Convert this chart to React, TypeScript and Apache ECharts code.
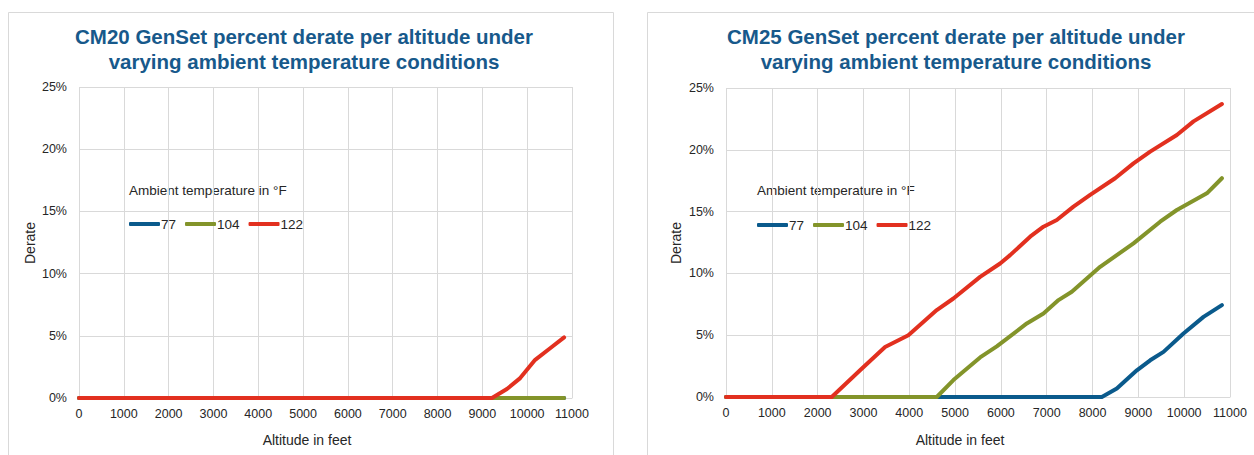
import React, { useEffect, useRef } from "react";
import * as echarts from "echarts";

// ---------- data ----------
const seriesNames = ["77", "104", "122"];

// CM20 (left)
const cm20Alt77 = [0, 10824];
const cm20Val77 = [0, 0];
const cm20Alt104 = [0, 10824];
const cm20Val104 = [0, 0];
const cm20Alt122 = [0, 9214, 9548, 9844, 10178, 10512, 10824];
const cm20Val122 = [0, 0, 0.72, 1.6, 3.07, 4.0, 4.87];

// CM25 (right)
const cm25Alt77 = [0, 8203, 8530, 8967, 9258, 9549, 9985, 10422, 10823];
const cm25Val77 = [0, 0, 0.68, 2.16, 2.97, 3.65, 5.14, 6.48, 7.43];
const cm25Alt104 = [0, 4600, 4963, 5546, 5910, 6565, 6929, 7257, 7548, 8166, 8894, 9476, 9840, 10495, 10823];
const cm25Val104 = [0, 0, 1.37, 3.2, 4.1, 5.95, 6.76, 7.84, 8.51, 10.53, 12.43, 14.18, 15.13, 16.48, 17.7];
const cm25Alt122 = [0, 2308, 2926, 3472, 3980, 4600, 4963, 5546, 5983, 6201, 6638, 6929, 7220, 7584, 7948, 8493, 8894, 9258, 9840, 10204, 10823];
const cm25Val122 = [0, 0, 2.16, 4.05, 5.0, 7.03, 7.97, 9.72, 10.8, 11.48, 12.97, 13.78, 14.32, 15.4, 16.35, 17.7, 18.9, 19.85, 21.2, 22.3, 23.7];

const titles = [
  ["CM20 GenSet percent derate per altitude under", "varying ambient temperature conditions"],
  ["CM25 GenSet percent derate per altitude under", "varying ambient temperature conditions"],
];
const legendTitle = "Ambient temperature in °F";
const xName = "Altitude in feet";
const yName = "Derate";

const colors = ["#0a5a8c", "#83942a", "#e2301f"];
const FONT = "Liberation Sans, Arial, sans-serif";
const TXT = "#262626";
const GRID = "#d9d9d9";

const zip = (a: number[], b: number[]) => a.map((x, i) => [x, b[i]]);

export default function App() {
  const ref = useRef<HTMLDivElement>(null);
  useEffect(() => {
    if (!ref.current) return;
    const chart = echarts.init(ref.current, undefined, { renderer: "svg" });

    const panels = [
      { grid: { left: 79, top: 87, width: 493, height: 311 }, ox: 8, titleX: 304, legendX: 129, legendY: 212, yNameX: 30, xNameX: 307 },
      { grid: { left: 726, top: 88, width: 504, height: 309 }, ox: 647, titleX: 956, legendX: 757, legendY: 213, yNameX: 676, xNameX: 960 },
    ];

    const xAxes = panels.map((p, i) => ({
      type: "value",
      gridIndex: i,
      min: 0,
      max: 11000,
      interval: 1000,
      axisLine: { show: true, lineStyle: { color: GRID } },
      axisTick: { show: false },
      splitLine: { show: true, lineStyle: { color: GRID, width: 1 } },
      axisLabel: {
        color: TXT,
        fontSize: 12.5,
        fontFamily: FONT,
        margin: 9,
        showMaxLabel: true,
        showMinLabel: true,
        formatter: (v: number) => String(v),
      },
    }));
    const yAxes = panels.map((p, i) => ({
      type: "value",
      gridIndex: i,
      min: 0,
      max: 25,
      interval: 5,
      axisLine: { show: false },
      axisTick: { show: false },
      splitLine: { show: true, lineStyle: { color: GRID, width: 1 } },
      axisLabel: { color: TXT, fontSize: 12.5, fontFamily: FONT, margin: 12, formatter: "{value}%" },
    }));

    const data = [
      [zip(cm20Alt77, cm20Val77), zip(cm20Alt104, cm20Val104), zip(cm20Alt122, cm20Val122)],
      [zip(cm25Alt77, cm25Val77), zip(cm25Alt104, cm25Val104), zip(cm25Alt122, cm25Val122)],
    ];
    const series: any[] = [];
    data.forEach((set, pi) => {
      set.forEach((d, si) => {
        series.push({
          type: "line",
          name: seriesNames[si],
          xAxisIndex: pi,
          yAxisIndex: pi,
          data: d,
          showSymbol: false,
          symbol: "none",
          lineStyle: { color: colors[si], width: 4, cap: "round", join: "round" },
          itemStyle: { color: colors[si] },
        });
      });
    });

    const legends = panels.map((p) => ({
      data: seriesNames,
      left: p.legendX - 5,
      top: p.legendY,
      icon: "roundRect",
      itemWidth: 31,
      itemHeight: 4,
      itemGap: 9,
      textStyle: { color: TXT, fontSize: 13.5, fontFamily: FONT, padding: [0, 0, 0, -4] },
    }));

    const graphics: any[] = [];
    panels.forEach((p, i) => {
      graphics.push({
        type: "rect",
        shape: { x: p.ox + 0.5, y: 12.5, width: i === 0 ? 605 : 620, height: 460 },
        style: { fill: "none", stroke: "#d9d9d9", lineWidth: 1 },
        silent: true,
        z: -10,
      });
      titles[i].forEach((t, li) => {
        graphics.push({
          type: "text",
          x: p.titleX,
          y: 36.5 + li * 24.5,
          style: {
            text: t,
            font: `bold 20.5px ${FONT}`,
            fill: "#17598b",
            align: "center",
            verticalAlign: "middle",
          },
        });
      });
      graphics.push({
        type: "text",
        x: p.legendX,
        y: 190,
        style: { text: legendTitle, font: `13.5px ${FONT}`, fill: TXT, align: "left", verticalAlign: "middle" },
      });
      graphics.push({
        type: "text",
        x: p.xNameX,
        y: 440,
        style: { text: xName, font: `14px ${FONT}`, fill: TXT, align: "center", verticalAlign: "middle" },
      });
      graphics.push({
        type: "text",
        x: p.yNameX,
        y: 243,
        rotation: Math.PI / 2,
        style: { text: yName, font: `14px ${FONT}`, fill: TXT, align: "center", verticalAlign: "middle" },
      });
    });

    chart.setOption({
      animation: false,
      backgroundColor: "#ffffff",
      grid: panels.map((p) => p.grid),
      xAxis: xAxes,
      yAxis: yAxes,
      legend: legends,
      series,
      graphic: graphics,
    });
    return () => chart.dispose();
  }, []);

  return (
    <div
      ref={ref}
      style={{ position: "fixed", left: 0, top: 0, width: 1254, height: 455, background: "#fff" }}
    />
  );
}
